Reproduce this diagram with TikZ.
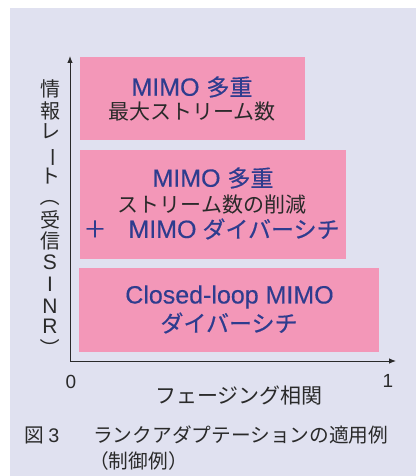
\documentclass[tikz,border=0pt]{standalone}
\usepackage{fontspec}
\usetikzlibrary{arrows.meta}
\setmainfont{Noto Sans CJK JP}
\newfontfamily\jb[FakeBold=0.5]{Noto Sans CJK JP}
\newfontfamily\lb[FakeBold=0.3]{Liberation Sans}
\newfontfamily\lat{Liberation Sans}
\definecolor{bg}{HTML}{E0E1F0}
\definecolor{pinkbox}{HTML}{F397B8}
\definecolor{bluetxt}{HTML}{2E3C8E}
\definecolor{txt}{HTML}{2A2A2A}
\newcommand{\BL}[1]{{\fontsize{25}{28}\lb #1}}
\newcommand{\BJ}[1]{{\fontsize{23}{28}\jb #1}}
\begin{document}
\begin{tikzpicture}[x=1pt,y=-1pt,
  boxnode/.style={fill=pinkbox,draw=none,inner sep=0pt},
  bluetext/.style={text=bluetxt,inner sep=0pt,anchor=center},
  blacktext/.style={text=txt,inner sep=0pt,anchor=center,font=\fontsize{21}{24}\selectfont},
  vchar/.style={text=txt,inner sep=0pt,anchor=center,text height=14pt,text depth=0pt,font=\fontsize{20}{24}\selectfont},
  vparen/.style={text=txt,inner sep=0pt,anchor=center,font=\fontsize{20}{24}\selectfont},
  axisline/.style={draw=txt,line width=0.9pt,-{Latex[length=7pt,width=5.5pt]}},
  captext/.style={text=txt,inner sep=0pt,font=\fontsize{19.7}{24}\selectfont}]
\useasboundingbox (0,0) rectangle (416,476);
\fill[bg] (10,8) rectangle (416,476);
% boxes
\node[boxnode,minimum width=225pt,minimum height=83pt] (b1) at (192.5,98.5) {};
\node[boxnode,minimum width=266pt,minimum height=109pt] (b2) at (213,204.5) {};
\node[boxnode,minimum width=300pt,minimum height=84pt] (b3) at (229,310) {};
% box texts
\node[bluetext] (t11) at (192,87) {\BL{MIMO}\hspace{7pt}\BJ{多重}};
\node[blacktext] (t12) at (192,112) {最大ストリーム数};
\node[bluetext] (t21) at (213,178) {\BL{MIMO}\hspace{7pt}\BJ{多重}};
\node[blacktext] (t22) at (212,205) {ストリーム数の削減};
\node[bluetext] (t23p) at (95,229) {\BJ{＋}};
\node[bluetext] (t23) at (234,229) {\BL{MIMO}\hspace{6pt}\BJ{ダイバーシチ}};
\node[bluetext] (t31) at (229.5,297) {\BL{Closed-loop MIMO}};
\node[bluetext] (t32) at (229,323) {\BJ{ダイバーシチ}};
% axes
\coordinate (o) at (70,361);
\coordinate (ytop) at (70,56);
\coordinate (xend) at (396,361);
\draw[axisline] (o) -- (ytop);
\draw[axisline] (o) -- (xend);
\node[text=txt,inner sep=0pt,font=\fontsize{19}{22}\lat] (zero) at (71,382) {0};
\node[text=txt,inner sep=0pt,font=\fontsize{19}{22}\lat] (one) at (388,381) {1};
\node[blacktext] (xl) at (239,396) {フェージング相関};
% vertical label
\node[vchar] (v1) at (50,90) {情};
\node[vchar] (v2) at (50,111) {報};
\node[vchar] (v3) at (50,132) {レ};
\node[vchar] (v4) at (50,155) {\rotatebox[origin=c]{-90}{ー}};
\node[vchar] (v5) at (50,176) {ト};
\node[vparen] (v6) at (50,196) {\rotatebox[origin=c]{-90}{（}};
\node[vchar] (v7) at (50,220) {受};
\node[vchar] (v8) at (50,241) {信};
\node[vchar,font=\fontsize{21}{24}\lat] (v9) at (50,262) {S};
\node[vchar,font=\fontsize{21}{24}\lat] (v10) at (50,284) {I};
\node[vchar,font=\fontsize{21}{24}\lat] (v11) at (50,306) {N};
\node[vchar,font=\fontsize{21}{24}\lat] (v12) at (50,326) {R};
\node[vparen] (v13) at (50,348) {\rotatebox[origin=c]{-90}{）}};
% caption
\node[captext,anchor=west] (c1) at (24,435) {図 {\lat 3}};
\node[captext,anchor=west] (c2) at (93,435) {ランクアダプテーションの適用例};
\node[captext,anchor=west] (c3) at (89,461) {（制御例）};
\end{tikzpicture}
\end{document}
